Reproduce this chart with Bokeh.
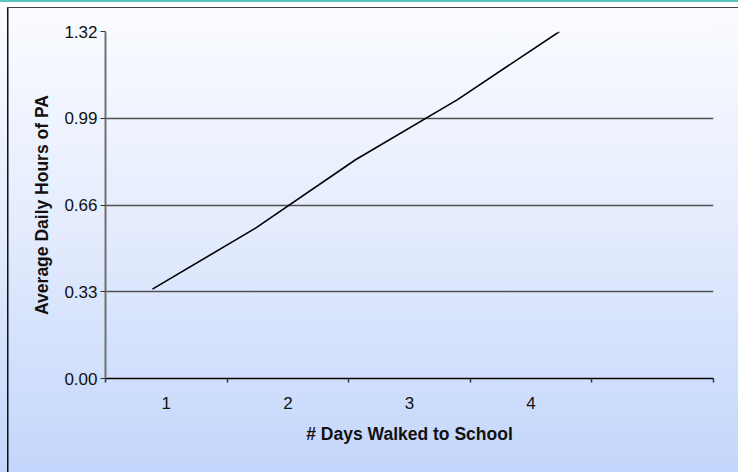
from bokeh.plotting import figure
from bokeh.models import FixedTicker, NumeralTickFormatter, Span, Range1d
from bokeh.embed import file_html
from bokeh.resources import INLINE

# Data
day_labels = ["1", "2", "3", "4", ""]
day_positions = [1, 2, 3, 4, 5]
line_x = [0.886, 1.734, 2.556, 3.395, 4.234]
avg_hours = [0.340, 0.572, 0.832, 1.061, 1.320]
y_ticks = [0.00, 0.33, 0.66, 0.99, 1.32]
grid_ticks = [0.33, 0.66, 0.99]

FONT = "Liberation Sans"

p = figure(width=738, height=472,
           x_range=Range1d(0.5, 5.5), y_range=Range1d(0, 1.32),
           output_backend="svg", toolbar_location=None,
           min_border_left=105, min_border_right=25,
           min_border_top=31, min_border_bottom=94)

p.background_fill_alpha = 0
p.border_fill_alpha = 0
p.outline_line_color = None
p.styles = {
    "background": ("linear-gradient(#5cc3c3, #5cc3c3) 0 0 / 100% 2px no-repeat, "
                   "linear-gradient(#ffffff, #ffffff) 0 2px / 100% 5px no-repeat, "
                   "linear-gradient(#444444, #444444) 7px 6px / 100% 2px no-repeat, "
                   "linear-gradient(#111111, #111111) 7px 6px / 1.5px 100% no-repeat, "
                   "linear-gradient(180deg, #fbfcff 0%, #e3ebfd 50%, #c3d6fb 100%)"),
}

# grid
p.xgrid.visible = False
p.ygrid.ticker = FixedTicker(ticks=grid_ticks)
p.ygrid.grid_line_color = "#505050"
p.ygrid.grid_line_width = 1.3
p.add_layout(Span(location=y_ticks[-1], dimension="width",
                  line_color="white", line_width=1.5))

# y axis
p.yaxis.ticker = FixedTicker(ticks=y_ticks)
p.yaxis.formatter = NumeralTickFormatter(format="0.00")
p.yaxis.axis_label = "Average Daily Hours of PA"
p.yaxis.axis_line_color = "#707070"
p.yaxis.axis_line_width = 2
p.yaxis.major_tick_line_color = "#333333"
p.yaxis.major_tick_out = 5
p.yaxis.major_tick_in = 0
p.yaxis.minor_tick_line_color = None
p.yaxis.major_label_standoff = 3
p.yaxis.axis_label_standoff = 9

# x axis
p.xaxis.ticker = FixedTicker(ticks=day_positions,
                             minor_ticks=[d - 0.5 for d in day_positions] + [day_positions[-1] + 0.5])
p.xaxis.major_label_overrides = {d: lab for d, lab in zip(day_positions, day_labels)}
p.xaxis.axis_label = "# Days Walked to School"
p.xaxis.axis_line_color = "black"
p.xaxis.axis_line_width = 1.5
p.xaxis.major_tick_out = 0
p.xaxis.major_tick_in = 0
p.xaxis.minor_tick_out = 4
p.xaxis.minor_tick_in = 0
p.xaxis.minor_tick_line_color = "#333333"
p.xaxis.minor_tick_line_width = 1.5
p.xaxis.major_label_standoff = 14
p.xaxis.axis_label_standoff = 12

for ax in (p.xaxis, p.yaxis):
    ax.major_label_text_font = FONT
    ax.major_label_text_font_size = "17px"
    ax.major_label_text_color = "#111111"
    ax.axis_label_text_font = FONT
    ax.axis_label_text_font_size = "17.5px"
    ax.axis_label_text_font_style = "bold"
    ax.axis_label_text_color = "#111111"

p.line(line_x, avg_hours, line_color="black", line_width=1.6)

open("out.html", "w").write(file_html(p, INLINE))
